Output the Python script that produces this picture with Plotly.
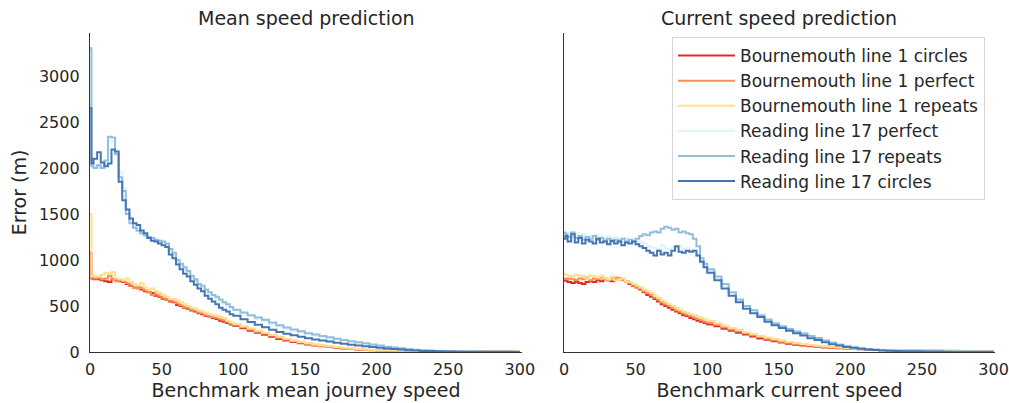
import plotly.graph_objects as go

# ---- data -------------------------------------------------------------
# bin left edges (benchmark speed): [0,1), [1,2.5), 2.5-unit bins up to 100, 5-unit bins to 300
bin_edges = ([0, 1] + [2.5 * k for k in range(1, 40)]
             + [100 + 5 * k for k in range(0, 40)])
x_end = 300

series_names = [
    "Bournemouth line 1 circles",
    "Bournemouth line 1 perfect",
    "Bournemouth line 1 repeats",
    "Reading line 17 perfect",
    "Reading line 17 repeats",
    "Reading line 17 circles",
]
series_colors = ["#d73027", "#fc8d59", "#fee090", "#e0f3f8", "#91bfdb", "#4575b4"]

# ---- Mean speed prediction (left panel) ----
mean_b_circles = [1080, 800,
    790, 790, 780, 770, 760, 790, 780, 770, 760, 740, 720, 700, 710, 680, 660, 650, 640, 610,
    600, 580, 570, 550, 540, 510, 500, 480, 470, 450, 440, 420, 410, 390, 385, 370, 360, 340, 330,
    315, 300,
    285, 258, 232, 208, 188, 165, 142, 125, 110, 95,
    82, 72, 62, 53, 45, 38, 32, 27, 22, 18,
    16, 14, 13, 12, 12, 11, 11, 10, 10, 10,
    10, 9, 10, 9, 9, 9, 8, 9, 8, 8]
mean_b_perfect = [900, 810,
    800, 810, 790, 800, 830, 790, 770, 780, 770, 750, 730, 700, 690, 700, 670, 650, 620, 630,
    610, 590, 580, 560, 550, 530, 510, 490, 480, 460, 450, 430, 420, 400, 395, 380, 370, 355, 345,
    330, 310,
    295, 270, 245, 220, 200, 178, 155, 135, 118, 102,
    90, 78, 68, 58, 50, 42, 36, 30, 25, 21,
    18, 16, 14, 13, 12, 12, 11, 11, 10, 10,
    10, 10, 9, 9, 9, 9, 9, 8, 8, 8]
mean_b_repeats = [1500, 820,
    830, 820, 840, 860, 850, 870, 800, 790, 780, 800, 760, 740, 720, 750, 700, 680, 690, 660,
    640, 620, 600, 580, 575, 560, 540, 520, 500, 480, 470, 450, 440, 420, 410, 400, 390, 380, 370,
    340, 320,
    305, 280, 255, 230, 210, 185, 165, 145, 125, 110,
    95, 82, 72, 62, 53, 45, 38, 32, 27, 22,
    19, 17, 15, 14, 13, 12, 12, 11, 11, 10,
    10, 10, 10, 9, 9, 9, 9, 9, 8, 8]
mean_r_perfect = [2100, 2050,
    2030, 2010, 2060, 2040, 2300, 2280, 2180, 1950, 1780, 1560, 1420, 1360, 1310, 1280, 1260, 1240,
    1230, 1220, 1210, 1190, 1170, 1100, 1050, 990, 950, 900, 860, 810, 780, 730, 700, 660, 640,
    610, 580, 550, 530, 500, 480,
    450, 420, 390, 360, 335, 305, 280, 255, 235, 215,
    200, 180, 165, 150, 138, 125, 112, 100, 88, 76,
    65, 55, 45, 37, 30, 24, 18, 14, 11, 9,
    7, 6, 5, 5, 4, 4, 3, 3, 2, 2]
mean_r_repeats = [3300, 2020,
    2000, 2030, 2000, 2080, 2340, 2330, 2150, 1900, 1750, 1500, 1400, 1350, 1320, 1290, 1270, 1250,
    1240, 1220, 1210, 1200, 1180, 1120, 1080, 1000, 960, 920, 880, 830, 790, 740, 720, 680, 650,
    620, 600, 570, 540, 520, 490,
    460, 430, 400, 375, 350, 320, 290, 265, 245, 225,
    205, 190, 175, 160, 145, 130, 118, 105, 95, 82,
    70, 58, 48, 40, 32, 25, 20, 15, 12, 10,
    8, 7, 6, 5, 5, 4, 4, 3, 3, 2]
mean_r_circles = [2650, 2050,
    2100, 2170, 2060, 2020, 2050, 2200, 2180, 1850, 1650, 1550, 1450, 1400, 1380, 1320, 1290, 1240,
    1210, 1200, 1180, 1160, 1140, 1060, 1020, 950, 900, 850, 820, 770, 730, 690, 660, 610, 580,
    550, 520, 480, 460, 440, 410,
    395, 355, 325, 295, 268, 242, 218, 198, 182, 165,
    150, 137, 126, 113, 100, 90, 80, 70, 62, 53,
    45, 38, 32, 26, 20, 16, 12, 10, 8, 6,
    5, 4, 4, 3, 3, 2, 2, 2, 2, 1]

# ---- Current speed prediction (right panel) ----
cur_b_circles = [780, 775,
    760, 750, 760, 750, 740, 760, 770, 760, 780, 770, 790, 780, 770, 790, 800, 790, 770, 740,
    720, 700, 680, 650, 620, 600, 575, 550, 520, 500, 480, 460, 440, 420, 400, 390, 370, 355, 340,
    330, 315,
    300, 280, 252, 230, 210, 190, 168, 148, 132, 116,
    102, 90, 80, 70, 62, 56, 50, 46, 42, 38,
    33, 29, 26, 23, 21, 19, 17, 16, 15, 14,
    14, 13, 13, 12, 12, 12, 11, 11, 11, 10]
cur_b_perfect = [800, 790,
    800, 790, 780, 800, 790, 810, 780, 800, 790, 810, 800, 780, 800, 810, 790, 780, 770, 750,
    730, 710, 690, 660, 640, 620, 590, 570, 540, 520, 500, 480, 455, 440, 420, 405, 390, 375, 360,
    345, 330,
    320, 295, 270, 245, 225, 205, 182, 162, 145, 128,
    112, 100, 88, 78, 70, 62, 56, 50, 46, 41,
    36, 32, 28, 25, 23, 21, 19, 18, 16, 15,
    15, 14, 14, 13, 13, 12, 12, 12, 11, 11]
cur_b_repeats = [850, 840,
    830, 820, 840, 830, 820, 800, 830, 820, 810, 830, 800, 790, 820, 780, 790, 800, 770, 760,
    740, 720, 700, 680, 660, 640, 610, 590, 560, 540, 520, 500, 480, 460, 440, 430, 410, 400, 385,
    370, 355,
    340, 310, 285, 260, 238, 215, 195, 175, 158, 140,
    125, 110, 98, 86, 76, 68, 60, 54, 48, 43,
    38, 34, 30, 27, 24, 22, 20, 18, 17, 16,
    15, 14, 14, 13, 13, 13, 12, 12, 12, 11]
cur_r_perfect = [1290, 1280,
    1300, 1250, 1290, 1260, 1280, 1230, 1260, 1240, 1270, 1250, 1230, 1260, 1240, 1250, 1220, 1230,
    1240, 1210, 1230, 1200, 1190, 1180, 1150, 1140, 1130, 1120, 1160, 1130, 1120, 1140, 1130, 1150,
    1120, 1130, 1110, 1100, 1040, 990, 920,
    880, 800, 720, 640, 560, 500, 450, 400, 360, 320,
    285, 255, 228, 205, 180, 155, 132, 110, 90, 72,
    58, 46, 36, 28, 22, 17, 14, 12, 10, 9,
    8, 7, 6, 6, 5, 5, 4, 4, 4, 3]
cur_r_repeats = [1300, 1280,
    1250, 1300, 1240, 1260, 1220, 1250, 1230, 1260, 1220, 1240, 1210, 1230, 1200, 1220, 1210, 1230,
    1200, 1220, 1200, 1230, 1260, 1280, 1270, 1300, 1310, 1300, 1340, 1360, 1350, 1330, 1340, 1300,
    1310, 1290, 1280, 1230, 1150, 1020, 960,
    900, 820, 740, 650, 570, 500, 455, 400, 350, 310,
    280, 250, 222, 200, 175, 152, 125, 100, 80, 62,
    50, 40, 32, 25, 20, 16, 13, 11, 9, 8,
    7, 6, 5, 5, 4, 4, 4, 3, 3, 3]
cur_r_circles = [1230, 1260,
    1200, 1280, 1190, 1240, 1180, 1220, 1200, 1180, 1230, 1190, 1200, 1170, 1210, 1180, 1200, 1160,
    1190, 1180, 1200, 1170, 1150, 1130, 1100, 1080, 1050, 1100, 1060, 1080, 1050, 1100, 1150, 1090,
    1080, 1100, 1090, 1100, 1050, 980, 920,
    860, 780, 690, 610, 540, 470, 420, 380, 330, 290,
    260, 230, 205, 180, 150, 130, 105, 85, 70, 55,
    45, 35, 28, 22, 17, 14, 11, 9, 8, 7,
    6, 5, 5, 4, 4, 3, 3, 3, 2, 2]

mean_series = [mean_b_circles, mean_b_perfect, mean_b_repeats,
               mean_r_perfect, mean_r_repeats, mean_r_circles]
cur_series = [cur_b_circles, cur_b_perfect, cur_b_repeats,
              cur_r_perfect, cur_r_repeats, cur_r_circles]

panel_titles = ["Mean speed prediction", "Current speed prediction"]
x_titles = ["Benchmark mean journey speed", "Benchmark current speed"]
y_title = "Error (m)"
x_ticks = [0, 50, 100, 150, 200, 250, 300]
y_ticks = [0, 500, 1000, 1500, 2000, 2500, 3000]

# ---- figure -----------------------------------------------------------
FONT = "DejaVu Sans"
TXT = "#262626"
fig = go.Figure()

x_steps = bin_edges + [x_end]
for panel, (series, xa, ya) in enumerate([(mean_series, "x", "y"), (cur_series, "x2", "y2")]):
    for name, color, vals in zip(series_names, series_colors, series):
        assert len(vals) == len(bin_edges), (name, len(vals), len(bin_edges))
        fig.add_trace(go.Scatter(
            x=x_steps, y=vals + [vals[-1]], mode="lines", name=name,
            line=dict(color=color, width=2, shape="hv"),
            xaxis=xa, yaxis=ya, showlegend=(panel == 1),
        ))

# full-window figure (page body margin removed by the post script below)
W, H = 1009, 403
ml, mr, mt, mb = 90, 14, 33, 51
pw = W - ml - mr
ph = H - mt - mb
left_dom = [0, 432 / pw]
right_dom = [(564 - ml) / pw, 1]

tickfont = dict(family=FONT, size=16, color=TXT)
titlefont = dict(family=FONT, size=19, color=TXT)
base = dict(showgrid=False, zeroline=False, showline=True, linecolor="#333333",
            linewidth=1.3, automargin=False, tickcolor="rgba(0,0,0,0)",
            tickfont=tickfont)
fig.update_layout(
    width=W, height=H, margin=dict(l=ml, r=mr, t=mt, b=mb, autoexpand=False),
    plot_bgcolor="white", paper_bgcolor="white",
    font=dict(family=FONT, color=TXT),
    xaxis=dict(domain=left_dom, range=[0, 301.5], tickvals=x_ticks, ticks="outside", ticklen=3,
               title=dict(text=x_titles[0], font=titlefont, standoff=2),
               anchor="y", **base),
    xaxis2=dict(domain=right_dom, range=[0, 301], tickvals=x_ticks, ticks="outside", ticklen=3,
                title=dict(text=x_titles[1], font=titlefont, standoff=2),
                anchor="y2", **base),
    yaxis=dict(range=[0, 3467], tickvals=y_ticks, ticks="outside", ticklen=6, anchor="x",
               title=dict(text=y_title, font=titlefont, standoff=7),
               **base),
    yaxis2=dict(range=[0, 3467], tickvals=y_ticks, showticklabels=False, ticks="",
                anchor="x2", matches="y", **base),
    legend=dict(x=(672 - ml) / pw, y=1 - (37 - mt) / ph, xanchor="left", yanchor="top",
                bgcolor="rgba(255,255,255,0.85)", bordercolor="#d6d6d6", borderwidth=1,
                font=dict(family=FONT, size=17, color=TXT), tracegroupgap=0,
                itemwidth=57),
    showlegend=True,
)
for dom, title in zip([left_dom, right_dom], panel_titles):
    fig.add_annotation(text=title, x=(dom[0] + dom[1]) / 2, y=1 + (mt - 18) / ph,
                       xref="paper", yref="paper", xanchor="center", yanchor="middle",
                       showarrow=False, font=dict(family=FONT, size=19, color=TXT))

fig.write_html(
    "out.html",
    config={"displayModeBar": False},
    post_script="document.body.style.margin='0px';document.body.style.overflow='hidden';",
)
